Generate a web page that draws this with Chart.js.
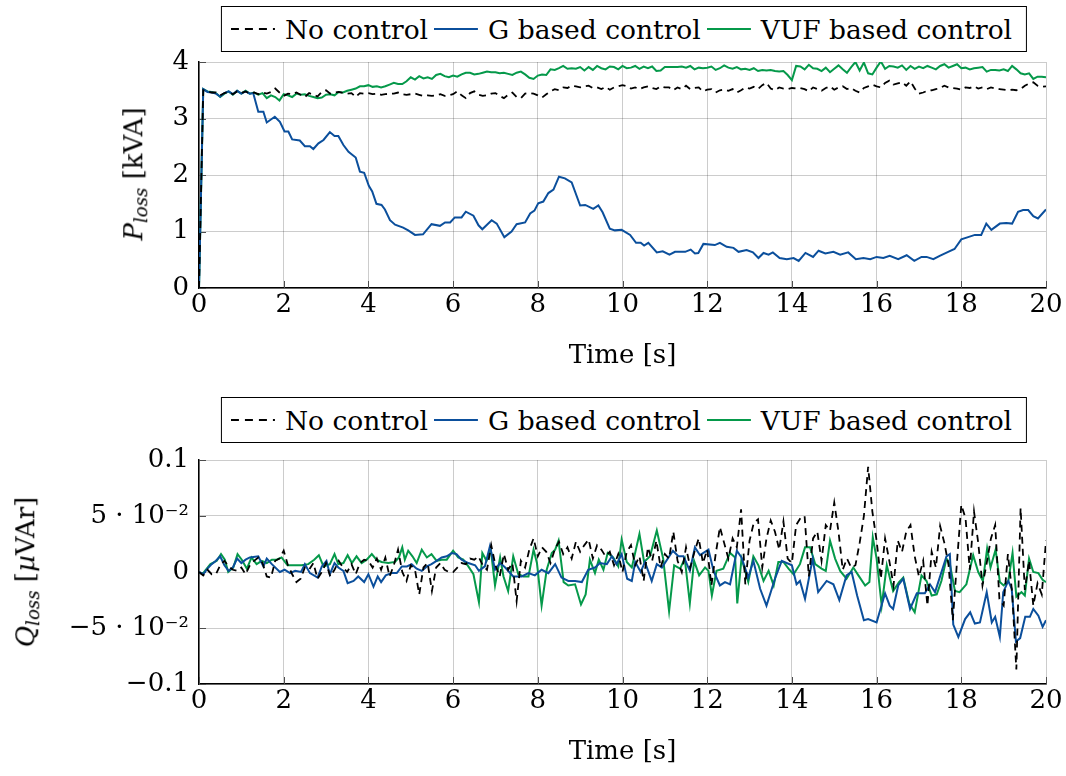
<!DOCTYPE html>
<html>
<head>
<meta charset="utf-8">
<script src="https://cdn.jsdelivr.net/npm/chart.js@4.4.1/dist/chart.umd.min.js"></script>
<style>
  body { margin: 0; background: #fff; width: 1066px; height: 776px; position: relative; overflow: hidden;
         font-family: "DejaVu Serif", serif; color: #000; }
  .box { position: absolute; left: 0; width: 1066px; }
  #topBox { top: 0; height: 380px; }
  #botBox { top: 390px; height: 386px; }
  .legend { position: absolute; left: 624px; transform: translateX(-50%); border: 1.5px solid #000;
            display: flex; align-items: center; height: 44px; font-size: 26.5px; padding: 0 14px 0 9px;
            background: #fff; white-space: nowrap; }
  .legend .item { display: flex; align-items: center; margin-right: 6px; }
  .legend .item:last-child { margin-right: 0; }
  .legend svg { margin-right: 10px; }
  .ylab { position: absolute; transform: translate(-50%, -50%) rotate(-90deg); white-space: nowrap; font-size: 26px; }
  .ylab sub { font-size: 0.7em; vertical-align: -0.3em; }
</style>
</head>
<body>
<div class="box" id="topBox"><canvas id="pChart"></canvas></div>
<div class="box" id="botBox"><canvas id="qChart"></canvas></div>

<div class="legend" style="top:6px" id="legTop"></div>
<div class="legend" style="top:397px" id="legBot"></div>

<div class="ylab" style="left:135px; top:174px"><i>P</i><sub><i>loss</i></sub> [kVA]</div>
<div class="ylab" style="left:27px; top:572px"><i>Q</i><sub><i>loss</i></sub> [<i>µ</i>VAr]</div>

<script>
// series names and colours
const seriesNames = ['No control', 'G based control', 'VUF based control'];
const seriesColors = ['#000000', '#0b4f9c', '#05994a'];

// sampling grid for the 0.1 s series
const tGrid = Array.from({ length: 201 }, (_, i) => i / 10);

// P_loss, no control (on tGrid)
const pNone = [
  0, 3.50, 3.48, 3.46, 3.46, 3.41, 3.45, 3.47, 3.43, 3.48,
  3.45, 3.48, 3.44, 3.46, 3.43, 3.46, 3.44, 3.47, 3.53, 3.46,
  3.40, 3.44, 3.43, 3.46, 3.42, 3.38, 3.45, 3.42, 3.39, 3.47,
  3.50, 3.44, 3.46, 3.47, 3.45, 3.44, 3.45, 3.38, 3.45, 3.44,
  3.45, 3.43, 3.44, 3.42, 3.43, 3.44, 3.44, 3.46, 3.43, 3.42,
  3.43, 3.44, 3.42, 3.40, 3.41, 3.40, 3.41, 3.43, 3.40, 3.41,
  3.43, 3.48, 3.41, 3.36, 3.45, 3.48, 3.42, 3.40, 3.41, 3.44,
  3.45, 3.40, 3.36, 3.42, 3.46, 3.38, 3.36, 3.44, 3.45, 3.44,
  3.41, 3.37, 3.43, 3.48, 3.52, 3.50, 3.55, 3.54, 3.58, 3.57,
  3.55, 3.57, 3.58, 3.54, 3.55, 3.52, 3.56, 3.51, 3.55, 3.57,
  3.59, 3.57, 3.53, 3.55, 3.52, 3.55, 3.57, 3.54, 3.52, 3.57,
  3.55, 3.55, 3.50, 3.55, 3.52, 3.58, 3.52, 3.54, 3.55, 3.48,
  3.51, 3.52, 3.46, 3.50, 3.51, 3.49, 3.52, 3.46, 3.50, 3.55,
  3.53, 3.56, 3.52, 3.59, 3.63, 3.53, 3.50, 3.55, 3.53, 3.52,
  3.54, 3.53, 3.54, 3.52, 3.48, 3.55, 3.52, 3.49, 3.54, 3.57,
  3.51, 3.55, 3.57, 3.52, 3.54, 3.49, 3.46, 3.54, 3.57, 3.60,
  3.57, 3.55, 3.63, 3.67, 3.60, 3.62, 3.64, 3.58, 3.66, 3.53,
  3.44, 3.46, 3.49, 3.50, 3.52, 3.54, 3.58, 3.55, 3.54, 3.53,
  3.51, 3.55, 3.54, 3.57, 3.53, 3.55, 3.52, 3.55, 3.53, 3.52,
  3.51, 3.50, 3.51, 3.50, 3.52, 3.58, 3.62, 3.64, 3.58, 3.56,
  3.57
];

// P_loss, VUF based control (on tGrid)
const pVuf = [
  0, 3.52, 3.48, 3.47, 3.45, 3.38, 3.44, 3.48, 3.42, 3.49,
  3.44, 3.49, 3.44, 3.46, 3.42, 3.45, 3.36, 3.41, 3.38, 3.32,
  3.43, 3.41, 3.38, 3.44, 3.42, 3.43, 3.40, 3.38, 3.36, 3.37,
  3.42, 3.43, 3.41, 3.47, 3.46, 3.49, 3.51, 3.53, 3.57, 3.57,
  3.59, 3.56, 3.57, 3.55, 3.57, 3.60, 3.63, 3.61, 3.61, 3.66,
  3.73, 3.69, 3.75, 3.71, 3.73, 3.70, 3.77, 3.79, 3.75, 3.73,
  3.76, 3.74, 3.78, 3.81, 3.81, 3.78, 3.79, 3.81, 3.83, 3.82,
  3.82, 3.80, 3.81, 3.79, 3.77, 3.81, 3.83, 3.78, 3.72, 3.70,
  3.76, 3.78, 3.77, 3.87, 3.86, 3.89, 3.93, 3.88, 3.89, 3.88,
  3.91, 3.85, 3.91, 3.86, 3.93, 3.89, 3.87, 3.92, 3.91, 3.87,
  3.93, 3.89, 3.90, 3.93, 3.88, 3.92, 3.89, 3.92, 3.84, 3.85,
  3.91, 3.91, 3.91, 3.91, 3.92, 3.90, 3.93, 3.87, 3.90, 3.89,
  3.90, 3.92, 3.86, 3.89, 3.94, 3.90, 3.88, 3.91, 3.87, 3.88,
  3.86, 3.89, 3.84, 3.86, 3.85, 3.86, 3.84, 3.83, 3.84, 3.77,
  3.68, 3.93, 3.92, 3.87, 3.95, 3.89, 3.88, 3.84, 3.90, 3.82,
  3.88, 3.94, 3.87, 3.81, 3.91, 4.00, 3.85, 3.99, 3.80, 3.78,
  3.90, 4.01, 3.88, 3.93, 3.92, 3.90, 3.94, 3.86, 3.93, 3.88,
  3.92, 3.89, 3.93, 3.90, 3.87, 3.93, 3.96, 3.90, 3.93, 3.96,
  3.89, 3.90, 3.87, 3.89, 3.90, 3.91, 3.83, 3.86, 3.86, 3.85,
  3.87, 3.84, 3.93, 3.87, 3.80, 3.78, 3.80, 3.70, 3.74, 3.74,
  3.73
];

// P_loss, G based control
const pGTime = [
  0, 0.1, 0.2, 0.3, 0.4, 0.5, 0.6, 0.7, 0.8, 0.9, 1.0, 1.1, 1.2,
  1.28, 1.40, 1.52, 1.60, 1.79, 1.91,
  2.02, 2.11, 2.20, 2.38, 2.50, 2.62, 2.70, 2.82, 2.94,
  3.09, 3.20, 3.29, 3.41, 3.53, 3.70, 3.80, 3.90,
  4.01, 4.09, 4.19, 4.31, 4.39, 4.51, 4.63, 4.82, 4.94,
  5.10, 5.29, 5.49, 5.69, 5.81, 5.93,
  6.04, 6.20, 6.30, 6.48, 6.60, 6.69, 6.91,
  7.03, 7.21, 7.38, 7.50, 7.70, 7.82, 7.92,
  8.01, 8.13, 8.25, 8.37, 8.50, 8.64, 8.80,
  9.00, 9.12, 9.31, 9.43, 9.53, 9.70, 9.82, 9.98,
  10.18, 10.32, 10.43, 10.51, 10.61, 10.81, 10.95,
  11.11, 11.24, 11.48, 11.61, 11.71, 11.79, 11.91,
  12.18, 12.30, 12.46, 12.62, 12.74, 12.93,
  13.08, 13.21, 13.33, 13.45, 13.55, 13.71, 13.88,
  14.04, 14.16, 14.32, 14.50, 14.63, 14.79, 14.98,
  15.14, 15.33, 15.51, 15.69, 15.85,
  16.00, 16.16, 16.31, 16.51, 16.71, 16.89,
  17.06, 17.18, 17.34, 17.49, 17.69, 17.84,
  18.00, 18.16, 18.32, 18.47, 18.59, 18.71, 18.91,
  19.06, 19.20, 19.34, 19.46, 19.58, 19.70, 19.81, 20.0
];
const pG = [
  0, 3.52, 3.47, 3.46, 3.44, 3.39, 3.45, 3.48, 3.43, 3.49, 3.44, 3.48, 3.44,
  3.45, 3.12, 3.12, 2.93, 3.03, 2.94,
  2.77, 2.77, 2.63, 2.61, 2.51, 2.51, 2.46, 2.56, 2.62,
  2.76, 2.69, 2.69, 2.53, 2.41, 2.31, 2.06, 2.04,
  1.81, 1.71, 1.49, 1.47, 1.39, 1.20, 1.12, 1.07, 1.02,
  0.94, 0.95, 1.13, 1.10, 1.16, 1.16,
  1.25, 1.25, 1.35, 1.28, 1.11, 1.04, 1.20,
  1.14, 0.90, 1.00, 1.13, 1.16, 1.32, 1.37,
  1.50, 1.53, 1.68, 1.74, 1.97, 1.94, 1.87,
  1.46, 1.47, 1.40, 1.46, 1.34, 1.05, 1.02, 1.03,
  0.94, 0.80, 0.80, 0.75, 0.80, 0.63, 0.65,
  0.59, 0.64, 0.64, 0.68, 0.61, 0.62, 0.78,
  0.76, 0.80, 0.73, 0.71, 0.64, 0.67,
  0.63, 0.53, 0.62, 0.59, 0.63, 0.53, 0.51,
  0.53, 0.48, 0.62, 0.55, 0.66, 0.61, 0.64,
  0.59, 0.63, 0.51, 0.53, 0.51,
  0.55, 0.53, 0.57, 0.51, 0.58, 0.48,
  0.55, 0.55, 0.51, 0.57, 0.64, 0.69,
  0.86, 0.90, 0.94, 0.94, 1.14, 1.03, 1.14,
  1.15, 1.14, 1.35, 1.38, 1.38, 1.27, 1.23, 1.39
];

// Q_loss, no control (on tGrid)
const qNone = [
  0, -0.003, 0.002, -0.002, -0.002, 0.006, 0.010, 0.005, 0.002, 0.001,
  0.004, -0.002, 0.006, 0.010, 0.013, 0.008, -0.004, -0.005, 0.010, 0.012,
  0.019, 0.006, -0.002, -0.009, -0.006, 0.004, 0.002, 0.008, -0.006, 0.000,
  0.008, -0.004, 0.002, 0.010, 0.004, 0.000, 0.007, -0.002, 0.008, 0.011,
  0.010, 0.004, 0.012, 0.002, 0.013, -0.004, 0.006, 0.020, 0.000, -0.008,
  0.006, 0.002, -0.020, 0.004, 0.008, -0.017, 0.004, 0.008, 0.002, 0.000,
  0.000, 0.004, 0.008, 0.007, 0.012, 0.011, 0.014, 0.006, 0.002, 0.024,
  0.006, -0.004, 0.016, 0.002, 0.008, -0.026, 0.010, 0.004, 0.020, 0.030,
  0.014, 0.022, 0.018, 0.008, 0.020, 0.027, 0.016, 0.022, 0.012, 0.027,
  0.018, 0.024, 0.029, 0.012, 0.024, 0.020, 0.014, 0.018, 0.006, 0.016,
  0.000, 0.018, 0.024, 0.006, 0.014, -0.008, 0.022, 0.010, 0.028, 0.004,
  0.016, 0.012, 0.036, 0.010, 0.000, 0.022, 0.004, 0.018, 0.030, 0.008,
  0.020, -0.012, 0.016, 0.040, 0.026, 0.012, 0.030, 0.022, 0.056, -0.011,
  0.028, 0.044, 0.047, 0.004, 0.030, 0.046, 0.036, 0.020, 0.045, 0.012,
  0.008, 0.042, 0.048, 0.050, -0.004, 0.030, 0.036, 0.010, 0.042, 0.037,
  0.062, 0.036, 0.002, 0.012, 0.004, 0.006, 0.026, 0.050, 0.094, 0.054,
  0.028, -0.006, 0.030, 0.010, -0.012, 0.028, 0.018, 0.036, 0.042, 0.014,
  -0.004, 0.010, -0.030, 0.018, 0.004, 0.041, 0.026, 0.006, -0.043, 0.010,
  0.060, 0.048, 0.002, 0.054, 0.026, -0.012, 0.008, 0.030, 0.042, -0.024,
  -0.030, 0.016, -0.018, -0.087, 0.057, -0.016, 0.010, -0.030, -0.010, -0.020,
  0.028
];

// Q_loss, G based control
const qGTime = [
  0, 0.1, 0.2, 0.3, 0.4, 0.5, 0.6, 0.7, 0.8, 0.9, 1.0, 1.1,
  1.20, 1.40, 1.52, 1.60, 1.72, 1.91, 2.02, 2.15, 2.27, 2.41, 2.50, 2.62, 2.80, 2.90,
  3.01, 3.09, 3.20, 3.29, 3.41, 3.51, 3.65, 3.76, 3.90, 4.00, 4.12, 4.22, 4.30, 4.41, 4.55, 4.67, 4.79, 4.91,
  5.02, 5.14, 5.26, 5.38, 5.49, 5.61, 5.73, 5.85, 5.97, 6.08, 6.20, 6.36, 6.52, 6.61, 6.75, 6.87, 6.99,
  7.11, 7.23, 7.42, 7.62, 7.78, 7.93, 8.09, 8.25, 8.41, 8.56, 8.72, 8.88, 9.04, 9.19, 9.35, 9.47, 9.63, 9.75, 9.86,
  9.98, 10.11, 10.22, 10.30, 10.43, 10.53, 10.69, 10.81, 10.93, 11.19, 11.32, 11.44, 11.59, 11.71, 11.83,
  12.03, 12.15, 12.30, 12.42, 12.54, 12.70, 12.81, 12.97, 13.09, 13.25, 13.40, 13.60, 13.76,
  14.00, 14.11, 14.19, 14.31, 14.49, 14.62, 14.82, 14.98, 15.12, 15.29, 15.41, 15.54, 15.70, 15.80,
  16.00, 16.20, 16.31, 16.39, 16.51, 16.63, 16.79, 16.95, 17.14, 17.26, 17.38, 17.49, 17.65, 17.73, 17.81, 17.93,
  18.09, 18.21, 18.32, 18.44, 18.60, 18.72, 18.80, 18.91, 18.99, 19.11, 19.19, 19.29, 19.39, 19.51, 19.62, 19.70, 19.82, 19.92, 20.00
];
const qG = [
  0, -0.002, 0.003, 0.007, 0.010, 0.014, 0.006, 0.001, 0.004, 0.012, 0.008, 0.011,
  0.013, 0.014, 0.005, 0.012, 0.007, 0.000, 0.002, -0.001, 0.001, 0.000, 0.007, -0.001, -0.005, 0.005,
  0.010, -0.002, 0.008, 0.004, 0.001, -0.010, -0.008, -0.004, -0.009, -0.002, -0.013, -0.004, -0.009, -0.003, -0.001, -0.001, 0.005, 0.005,
  0.007, 0.003, 0.001, 0.005, 0.007, 0.010, 0.013, 0.014, 0.017, 0.016, 0.011, 0.008, 0.006, 0.001, 0.005, 0.023, 0.002,
  0.008, 0.004, -0.004, -0.004, -0.001, -0.003, 0.002, -0.001, 0.007, -0.005, -0.008, -0.008, -0.009, 0.002, 0.004, 0.008, 0.007, 0.014, 0.007,
  0.016, -0.006, -0.008, 0.009, 0.000, 0.009, -0.008, 0.007, 0.004, 0.019, 0.014, 0.014, 0.001, 0.022, 0.015,
  0.020, 0.001, -0.012, -0.009, -0.011, 0.019, 0.013, -0.005, 0.010, -0.015, -0.030, -0.006, 0.010,
  0.006, -0.011, -0.008, -0.024, 0.012, -0.018, -0.008, -0.011, -0.025, -0.003, 0.000, -0.021, -0.043, -0.042,
  -0.045, -0.019, -0.030, -0.033, -0.012, -0.006, -0.033, -0.019, -0.019, -0.011, -0.018, -0.005, 0.014, 0.016, -0.047, -0.058,
  -0.042, -0.036, -0.046, -0.045, -0.018, -0.045, -0.040, -0.058, -0.018, -0.008, -0.015, -0.062, -0.059, -0.040, -0.040, -0.033, -0.039, -0.049, -0.043
];

// Q_loss, VUF based control
const qVufTime = [
  0, 0.08, 0.27, 0.42, 0.52, 0.61, 0.69, 0.81, 0.91, 1.01, 1.13, 1.24, 1.36, 1.48, 1.60, 1.72, 1.83, 1.95,
  2.09, 2.27, 2.42, 2.58, 2.72, 2.83, 2.94, 3.09, 3.20, 3.29, 3.41, 3.51, 3.61, 3.72, 3.84, 3.96,
  4.08, 4.19, 4.31, 4.47, 4.63, 4.72, 4.80, 4.86, 4.94, 5.04, 5.14, 5.26, 5.38, 5.49, 5.61, 5.73, 5.85,
  6.00, 6.12, 6.24, 6.36, 6.48, 6.61, 6.69, 6.79, 6.89, 6.99, 7.11, 7.19, 7.30, 7.42, 7.54, 7.66, 7.78, 7.90, 7.98,
  8.09, 8.21, 8.33, 8.41, 8.49, 8.61, 8.72, 8.88, 9.02, 9.13, 9.23, 9.35, 9.44, 9.55, 9.65, 9.78, 9.90, 9.98,
  10.10, 10.22, 10.40, 10.51, 10.65, 10.81, 10.96, 11.10, 11.22, 11.36, 11.47, 11.59, 11.69, 11.81, 11.95,
  12.03, 12.11, 12.22, 12.38, 12.54, 12.66, 12.71, 12.81, 12.97, 13.09, 13.21, 13.33, 13.45, 13.57, 13.68, 13.80, 13.92,
  14.04, 14.19, 14.31, 14.43, 14.55, 14.70, 14.80, 14.90, 15.02, 15.14, 15.29, 15.45, 15.57, 15.73, 15.83, 15.91,
  16.00, 16.12, 16.24, 16.39, 16.53, 16.63, 16.77, 16.90, 17.06, 17.18, 17.30, 17.42, 17.53, 17.65, 17.73, 17.85, 17.96,
  18.12, 18.28, 18.40, 18.51, 18.61, 18.69, 18.81, 18.91, 19.00, 19.11, 19.21, 19.30, 19.42, 19.50, 19.60, 19.70, 19.82, 19.92, 20.00
];
const qVuf = [
  0, -0.002, 0.007, 0.010, 0.016, 0.011, 0.000, 0.004, 0.016, 0.011, 0.003, 0.013, 0.007, 0.010, 0.008, 0.011, 0.011, 0.013,
  0.006, 0.006, 0.006, 0.007, 0.011, 0.015, 0.005, 0.007, 0.016, 0.007, 0.008, 0.015, 0.008, 0.014, 0.008, 0.011,
  0.016, 0.011, 0.009, 0.008, 0.009, 0.013, 0.022, 0.011, 0.019, 0.014, 0.008, 0.020, 0.013, 0.016, 0.010, 0.011, 0.011,
  0.019, 0.013, 0.011, 0.005, -0.002, -0.027, 0.017, 0.010, 0.020, -0.012, 0.013, -0.004, -0.017, 0.014, -0.002, -0.004, -0.004, 0.020, 0.008,
  -0.030, 0.002, 0.017, 0.020, 0.028, -0.009, -0.012, -0.011, -0.029, -0.020, 0.011, -0.001, 0.011, 0.002, 0.017, 0.013, 0.005, 0.029,
  0.009, 0.004, 0.034, 0.009, 0.014, 0.037, 0.012, -0.035, 0.006, 0.003, 0.012, -0.028, 0.010, -0.003, 0.004,
  0.001, -0.021, 0.001, 0.003, 0.017, 0.013, -0.028, 0.012, -0.009, 0.014, 0.006, -0.008, 0.001, -0.012, 0.009, 0.009, 0.003,
  -0.002, 0.007, 0.022, 0.022, 0.007, 0.003, 0.001, 0.028, 0.012, 0.001, -0.006, 0.004, -0.003, -0.012, -0.009, 0.031,
  0.012, -0.030, 0.006, -0.017, -0.009, -0.005, -0.028, -0.036, -0.003, -0.008, -0.021, -0.020, -0.008, 0.012, 0.007, -0.017, -0.018,
  -0.011, 0.015, 0.000, -0.008, 0.021, 0.004, 0.020, -0.009, -0.012, -0.008, 0.017, -0.022, -0.018, -0.021, 0.012, 0.000, -0.001, -0.007, -0.009
];

// axis ticks
const xTicks = [0, 2, 4, 6, 8, 10, 12, 14, 16, 18, 20];
const pTicks = [0, 1, 2, 3, 4];
const qTicks = [-0.1, -0.05, 0, 0.05, 0.1];
const qTickLabels = ['\u22120.1', '\u22125 \u00b7 10\u207b\u00b2', '0', '5 \u00b7 10\u207b\u00b2', '0.1'];

const FONT = "'DejaVu Serif', serif";
Chart.defaults.font.family = FONT;
Chart.defaults.color = '#000';

const pts = (xs, ys) => xs.map((x, i) => ({ x: x, y: ys[i] }));

function makeDatasets(none, g, vuf) {
  return [none, g, vuf].map((d, i) => ({
    label: seriesNames[i],
    data: d,
    borderColor: seriesColors[i],
    borderWidth: i === 0 ? 1.8 : 2,
    borderDash: i === 0 ? [7, 5] : [],
    pointRadius: 0,
    tension: 0,
    fill: false
  }));
}

// short tick marks drawn inside the plot frame
const innerTicks = {
  id: 'innerTicks',
  beforeDatasetsDraw(chart) {
    const { ctx, chartArea: a, scales: { x, y } } = chart;
    ctx.save();
    ctx.strokeStyle = '#4d4d4d';
    ctx.lineWidth = 1;
    ctx.beginPath();
    x.ticks.forEach(t => {
      const px = Math.round(x.getPixelForValue(t.value)) + 0.5;
      ctx.moveTo(px, a.bottom); ctx.lineTo(px, a.bottom - 7);
    });
    y.ticks.forEach(t => {
      const py = Math.round(y.getPixelForValue(t.value)) + 0.5;
      ctx.moveTo(a.left, py); ctx.lineTo(a.left + 7, py);
    });
    ctx.stroke();
    ctx.restore();
  }
};

function makeOptions(yTicks, yFmt, padTop) {
  return {
    responsive: true,
    maintainAspectRatio: false,
    animation: false,
    layout: { padding: { left: 0, right: 20, top: padTop, bottom: 0 } },
    plugins: { legend: { display: false }, tooltip: { enabled: false } },
    scales: {
      x: {
        type: 'linear',
        min: 0, max: 20,
        afterBuildTicks: s => { s.ticks = xTicks.map(v => ({ value: v })); },
        afterFit: s => { s.height = 92; },
        ticks: { font: { size: 26 }, color: '#000', padding: 2, maxRotation: 0 },
        grid: { color: 'rgba(0,0,0,0.2)', lineWidth: 1, drawTicks: false },
        border: { color: '#000', width: 1.5 },
        title: { display: true, text: 'Time [s]', font: { size: 26 }, color: '#000', padding: { top: 0, bottom: 8 } }
      },
      y: {
        min: yTicks[0], max: yTicks[yTicks.length - 1],
        afterBuildTicks: s => { s.ticks = yTicks.map(v => ({ value: v })); },
        afterFit: s => { s.width = 199; },
        ticks: { font: { size: 26 }, color: '#000', padding: 10, callback: yFmt },
        grid: { color: 'rgba(0,0,0,0.2)', lineWidth: 1, drawTicks: false },
        border: { color: '#000', width: 1.5 }
      }
    }
  };
}

new Chart(document.getElementById('pChart'), {
  type: 'line',
  data: { datasets: makeDatasets(pts(tGrid, pNone), pts(pGTime, pG), pts(tGrid, pVuf)) },
  options: makeOptions(pTicks, v => String(v), 62),
  plugins: [innerTicks]
});

new Chart(document.getElementById('qChart'), {
  type: 'line',
  data: { datasets: makeDatasets(pts(tGrid, qNone), pts(qGTime, qG), pts(qVufTime, qVuf)) },
  options: makeOptions(qTicks, v => qTickLabels[qTicks.findIndex(t => Math.abs(t - v) < 1e-9)], 70),
  plugins: [innerTicks]
});

// boxed legends above each plot
function buildLegend(el) {
  seriesNames.forEach((name, i) => {
    const item = document.createElement('span');
    item.className = 'item';
    const dash = i === 0 ? ' stroke-dasharray="8 6"' : '';
    item.innerHTML = '<svg width="44" height="10"><line x1="0" y1="5" x2="44" y2="5" stroke="' +
      seriesColors[i] + '" stroke-width="2"' + dash + '/></svg>' + name;
    el.appendChild(item);
  });
}
buildLegend(document.getElementById('legTop'));
buildLegend(document.getElementById('legBot'));
</script>
</body>
</html>
